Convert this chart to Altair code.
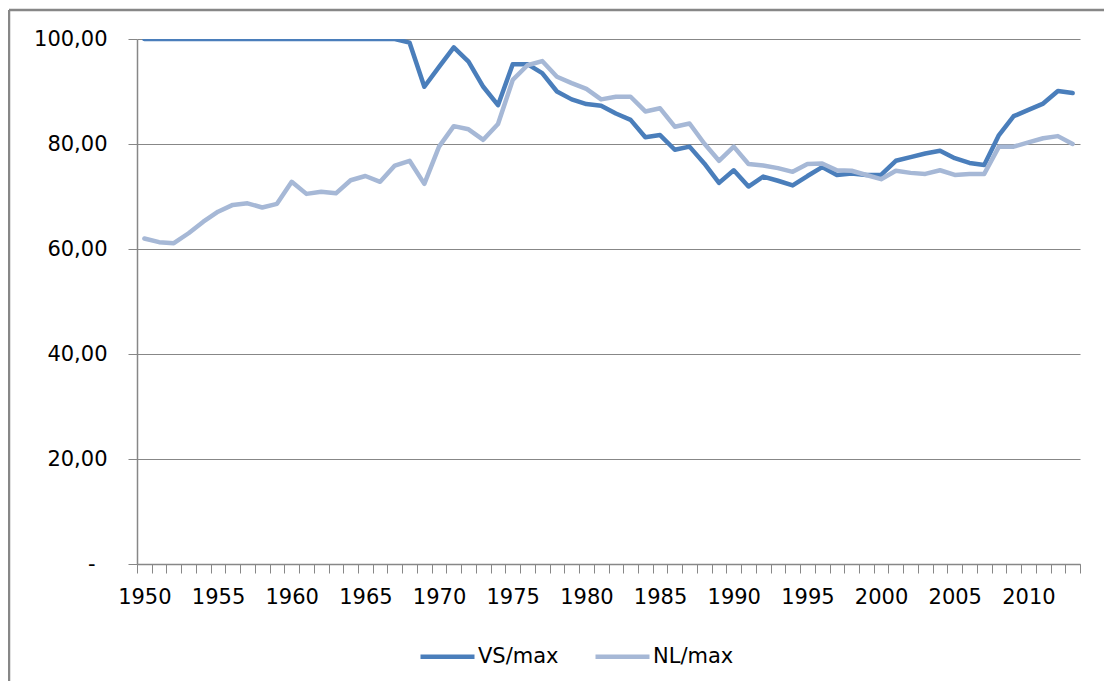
import altair as alt
import pandas as pd

years = list(range(1950, 2014))

vs_max = [100.0, 100.0, 100.0, 100.0, 100.0, 100.0, 100.0, 100.0, 100.0, 100.0,
          100.0, 100.0, 100.0, 100.0, 100.0, 100.0, 100.0, 100.0, 99.3, 90.9,
          94.7, 98.4, 95.7, 90.9, 87.4, 95.2, 95.2, 93.5, 90.0, 88.5,
          87.6, 87.3, 85.8, 84.6, 81.3, 81.7, 78.9, 79.5, 76.3, 72.6,
          75.0, 71.9, 73.8, 73.0, 72.1, 73.9, 75.6, 74.1, 74.4, 74.1,
          74.1, 76.8, 77.5, 78.2, 78.7, 77.3, 76.4, 76.0, 81.7, 85.3,
          86.5, 87.7, 90.1, 89.7]

nl_max = [62.0, 61.3, 61.1, 63.0, 65.2, 67.1, 68.4, 68.7, 67.9, 68.6,
          72.8, 70.5, 70.9, 70.6, 73.1, 73.9, 72.8, 75.9, 76.8, 72.4,
          79.5, 83.4, 82.8, 80.8, 83.8, 92.2, 95.0, 95.8, 92.8, 91.6,
          90.5, 88.5, 89.0, 89.0, 86.2, 86.8, 83.3, 83.9, 80.1, 76.8,
          79.5, 76.2, 75.9, 75.4, 74.7, 76.2, 76.3, 75.0, 74.9, 74.1,
          73.3, 74.9, 74.5, 74.3, 75.0, 74.1, 74.3, 74.3, 79.5, 79.5,
          80.3, 81.1, 81.5, 80.0]

series_names = ["VS/max", "NL/max"]
y_ticks = [0, 20, 40, 60, 80, 100]

df = pd.DataFrame({
    "year": years + years,
    "value": vs_max + nl_max,
    "series": [series_names[0]] * len(years) + [series_names[1]] * len(years),
})

GRAY = "#878787"
FONT = "DejaVu Sans"
FS = 21
W, H = 943, 525

x_enc = alt.X(
    "year:O",
    scale=alt.Scale(type="band", paddingInner=0, paddingOuter=0),
    axis=alt.Axis(
        labelExpr="datum.value % 5 == 0 ? datum.label : ''",
        labelAngle=0,
        labelOverlap=False,
        labelPadding=13,
        labelFont=FONT, labelFontSize=FS, labelColor="black",
        tickBand="extent",
        ticks=True, tickSize=9, tickColor=GRAY, tickWidth=1,
        domainColor=GRAY, domainWidth=1.5,
        grid=False, title=None,
    ),
)

y_enc = alt.Y(
    "value:Q",
    scale=alt.Scale(domain=[0, 100], nice=False, zero=True),
    axis=alt.Axis(
        values=y_ticks,
        labelExpr="datum.value == 0 ? '-' : replace(format(datum.value, '.2f'), '.', ',')",
        labelFont=FONT, labelFontSize=FS, labelColor="black",
        tickSize=9, tickColor=GRAY, tickWidth=1,
        domainColor=GRAY, domainWidth=1.5,
        grid=True, gridColor=GRAY, gridWidth=1,
        labelPadding={"condition": {"test": "datum.value == 0", "value": 33}, "value": 21},
        title=None,
    ),
)

color_enc = alt.Color(
    "series:N",
    scale=alt.Scale(domain=series_names, range=["#4A7EBB", "#A6B8D6"]),
    legend=alt.Legend(
        title=None, orient="none", legendX=281, legendY=588,
        direction="horizontal", symbolType="stroke", symbolSize=2916,
        symbolStrokeWidth=4.5, labelFontSize=FS, labelFont=FONT,
        labelColor="black", labelOffset=1, columnPadding=27, padding=0,
    ),
)

base = alt.Chart(df).mark_line(strokeWidth=4.5, clip=True, strokeJoin="round", strokeCap="round").encode(
    x=x_enc, y=y_enc, color=color_enc
)

vs_line = base.transform_filter(alt.datum.series == series_names[0])
nl_line = base.transform_filter(alt.datum.series == series_names[1])

frame_df = pd.DataFrame({"k": [0]})
top_border = alt.Chart(frame_df).mark_rule(color=GRAY, strokeWidth=2.5).encode(
    x=alt.value(-128), x2=alt.value(1000), y=alt.value(-29)
)
left_border = alt.Chart(frame_df).mark_rule(color=GRAY, strokeWidth=2.5).encode(
    x=alt.value(-128), y=alt.value(-29), y2=alt.value(700)
)

chart = alt.layer(top_border, left_border, vs_line, nl_line).properties(
    width=W, height=H,
    autosize=alt.AutoSizeParams(type="none"),
    padding={"left": 129, "top": 31, "right": 24, "bottom": 117},
).configure(background="white").configure_view(stroke=None)

chart.save("out.html", embed_options={"renderer": "svg", "actions": False})
